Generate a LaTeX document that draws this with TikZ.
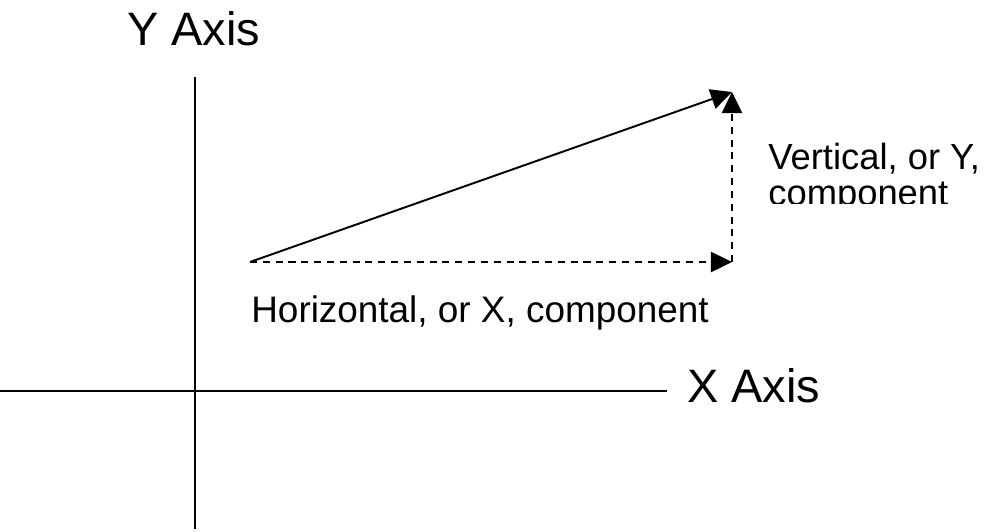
\documentclass[tikz,border=0pt]{standalone}
\usepackage{fontspec}
\setmainfont{Liberation Sans}
\usetikzlibrary{arrows.meta}

\begin{document}
\begin{tikzpicture}[
    x=0.02cm, y=-0.02cm,
    >={Triangle[length=12pt, width=11.5pt]},
    axis/.style={line width=1.1pt},
    vec/.style={line width=1.1pt, ->},
    comp/.style={line width=1.1pt, dash pattern=on 4pt off 3.3pt, ->},
    biglabel/.style={anchor=base west, inner sep=0pt, font=\fontsize{26.7}{30}\selectfont},
    lbl/.style={anchor=base west, inner sep=0pt, align=left,
                font=\fontsize{20.7}{20}\selectfont},
]
    \useasboundingbox (0,0) rectangle (993,531);

    % Axes
    \coordinate (Ytop) at (195,77);
    \coordinate (Ybot) at (195,529);
    \coordinate (Xleft) at (0,391);
    \coordinate (Xright) at (667,391);
    \draw[axis] (Ytop) -- (Ybot);
    \draw[axis] (Xleft) -- (Xright);

    % Vector and its components
    \coordinate (O) at (250,262);
    \coordinate (C) at (732,262);
    \coordinate (T) at (732,92);
    \draw[vec] (O) -- (T);
    \draw[comp] (O) -- (C);
    \draw[comp] (C) -- (T);

    % Labels
    \node[biglabel] (ylab) at (127,45) {Y Axis};
    \node[biglabel] (xlab) at (687,402) {X Axis};
    \node[lbl, font=\fontsize{21}{24}\selectfont] (hlab) at (251,322) {Horizontal, or X, component};
    \begin{scope}
        \clip (760,120) rectangle (993,203);
        \node[lbl] (vlab) at (768,205) {Vertical, or Y,\\component};
    \end{scope}
\end{tikzpicture}
\end{document}
